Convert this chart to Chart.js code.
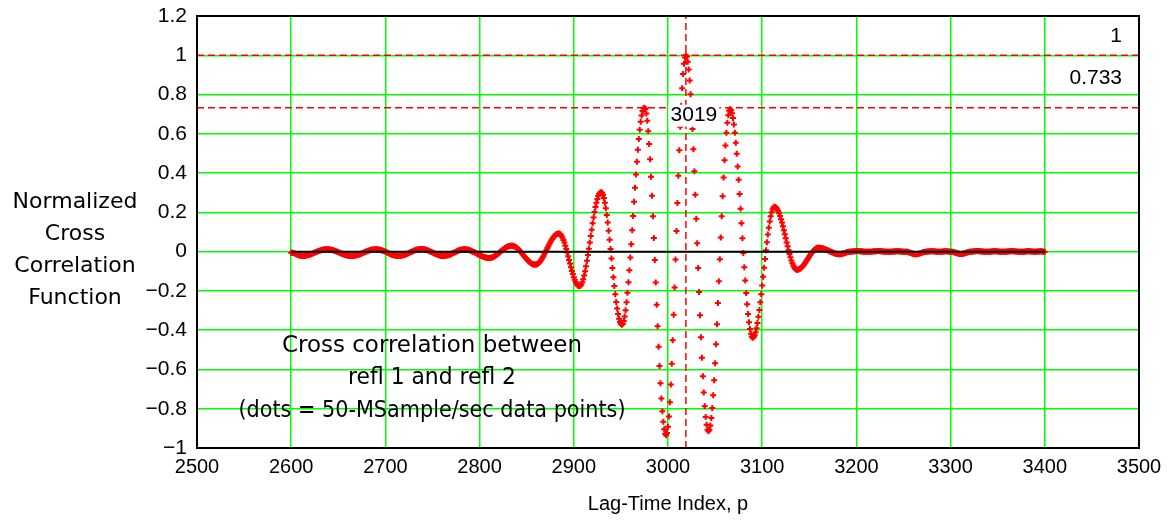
<!DOCTYPE html>
<html>
<head>
<meta charset="utf-8">
<title>Normalized Cross Correlation Function</title>
<script src="https://cdn.jsdelivr.net/npm/chart.js@4/dist/chart.umd.min.js"></script>
<style>
  html, body { margin: 0; padding: 0; background: #fff; }
  #wrap { position: relative; width: 1167px; height: 521px; }
</style>
</head>
<body>
<div id="wrap"><canvas id="chart" width="1167" height="521"></canvas></div>
<script>
// Axis ticks
const xTicks = [2500, 2600, 2700, 2800, 2900, 3000, 3100, 3200, 3300, 3400, 3500];
const yTicks = [-1, -0.8, -0.6, -0.4, -0.2, 0, 0.2, 0.4, 0.6, 0.8, 1, 1.2];

// Marker lines: main peak lag, its value, and the largest side lobe
const peakLag = 3019;
const peakValue = 1;
const sidelobeValue = 0.733;
const lagRange = [2600, 3400];

const yTitleLines = ['Normalized', 'Cross', 'Correlation', 'Function'];
const xTitle = 'Lag-Time Index, p';
const noteLines = ['Cross correlation between', 'refl 1 and refl 2', '(dots = 50-MSample/sec data points)'];

// Normalized cross correlation, one value per lag index, in blocks of 100 lags
const ccf2600 = [
  -0.006,-0.006,-0.007,-0.008,-0.010,-0.012,-0.014,-0.016,-0.018,-0.020,
  -0.021,-0.022,-0.022,-0.022,-0.022,-0.021,-0.020,-0.019,-0.018,-0.016,
  -0.015,-0.013,-0.011,-0.009,-0.007,-0.005,-0.003,-0.001,0.001,0.003,
  0.005,0.006,0.008,0.009,0.010,0.011,0.012,0.012,0.012,0.012,
  0.012,0.011,0.010,0.009,0.008,0.006,0.005,0.003,0.001,-0.001,
  -0.003,-0.005,-0.007,-0.009,-0.011,-0.013,-0.015,-0.016,-0.018,-0.019,
  -0.020,-0.021,-0.022,-0.022,-0.022,-0.022,-0.022,-0.021,-0.020,-0.019,
  -0.018,-0.016,-0.015,-0.013,-0.011,-0.009,-0.007,-0.005,-0.003,-0.001,
  0.001,0.003,0.005,0.006,0.008,0.009,0.010,0.011,0.012,0.012,
  0.012,0.012,0.011,0.011,0.010,0.008,0.007,0.005,0.004,0.002
];
const ccf2700 = [
  -0.001,-0.003,-0.005,-0.007,-0.009,-0.012,-0.014,-0.015,-0.017,-0.018,
  -0.020,-0.021,-0.021,-0.022,-0.022,-0.022,-0.021,-0.021,-0.020,-0.018,
  -0.017,-0.015,-0.013,-0.011,-0.009,-0.007,-0.004,-0.002,0.000,0.002,
  0.004,0.006,0.008,0.009,0.011,0.012,0.012,0.013,0.013,0.013,
  0.012,0.012,0.011,0.009,0.008,0.006,0.004,0.002,0.000,-0.002,
  -0.004,-0.007,-0.009,-0.011,-0.013,-0.015,-0.017,-0.018,-0.020,-0.021,
  -0.021,-0.022,-0.022,-0.022,-0.021,-0.020,-0.019,-0.018,-0.016,-0.014,
  -0.012,-0.010,-0.007,-0.005,-0.003,0.000,0.002,0.004,0.006,0.008,
  0.009,0.010,0.011,0.012,0.012,0.012,0.011,0.011,0.009,0.008,
  0.006,0.005,0.002,0.000,-0.002,-0.005,-0.007,-0.010,-0.013,-0.015
];
const ccf2800 = [
  -0.018,-0.020,-0.022,-0.025,-0.026,-0.028,-0.029,-0.031,-0.031,-0.032,
  -0.032,-0.032,-0.031,-0.030,-0.028,-0.026,-0.023,-0.020,-0.017,-0.013,
  -0.009,-0.005,-0.001,0.003,0.007,0.011,0.015,0.018,0.021,0.024,
  0.026,0.028,0.029,0.030,0.030,0.030,0.028,0.027,0.024,0.021,
  0.017,0.013,0.008,0.002,-0.003,-0.009,-0.015,-0.021,-0.027,-0.033,
  -0.038,-0.044,-0.049,-0.053,-0.057,-0.060,-0.063,-0.065,-0.066,-0.066,
  -0.065,-0.064,-0.060,-0.056,-0.051,-0.045,-0.037,-0.029,-0.021,-0.011,
  -0.002,0.008,0.018,0.028,0.037,0.047,0.055,0.063,0.071,0.077,
  0.082,0.087,0.090,0.091,0.092,0.091,0.087,0.080,0.071,0.059,
  0.046,0.030,0.014,-0.004,-0.023,-0.042,-0.061,-0.080,-0.098,-0.114
];
const ccf2900 = [
  -0.130,-0.143,-0.155,-0.164,-0.171,-0.175,-0.176,-0.174,-0.167,-0.156,
  -0.141,-0.122,-0.100,-0.075,-0.047,-0.017,0.015,0.047,0.080,0.112,
  0.144,0.174,0.202,0.227,0.249,0.268,0.283,0.294,0.301,0.303,
  0.300,0.289,0.273,0.249,0.221,0.187,0.148,0.106,0.061,0.014,
  -0.035,-0.083,-0.130,-0.175,-0.217,-0.256,-0.290,-0.318,-0.342,-0.358,
  -0.369,-0.372,-0.367,-0.353,-0.330,-0.298,-0.258,-0.210,-0.156,-0.095,
  -0.030,0.038,0.109,0.182,0.254,0.325,0.393,0.458,0.519,0.573,
  0.621,0.661,0.693,0.716,0.730,0.733,0.727,0.704,0.666,0.613,
  0.548,0.470,0.382,0.284,0.180,0.070,-0.043,-0.157,-0.270,-0.380,
  -0.484,-0.582,-0.670,-0.748,-0.813,-0.866,-0.904,-0.927,-0.935,-0.924
];
const ccf3000 = [
  -0.892,-0.839,-0.767,-0.677,-0.571,-0.451,-0.321,-0.183,-0.040,0.105,
  0.248,0.386,0.516,0.636,0.742,0.832,0.904,0.957,0.989,1.000,
  0.992,0.967,0.927,0.872,0.802,0.720,0.625,0.521,0.409,0.290,
  0.168,0.043,-0.083,-0.205,-0.324,-0.436,-0.540,-0.635,-0.717,-0.787,
  -0.842,-0.882,-0.907,-0.915,-0.907,-0.885,-0.847,-0.796,-0.731,-0.655,
  -0.568,-0.472,-0.370,-0.262,-0.151,-0.039,0.072,0.180,0.282,0.378,
  0.465,0.541,0.606,0.657,0.695,0.717,0.725,0.720,0.705,0.681,
  0.647,0.605,0.555,0.498,0.434,0.366,0.294,0.219,0.144,0.068,
  -0.007,-0.079,-0.147,-0.211,-0.268,-0.318,-0.360,-0.394,-0.418,-0.433,
  -0.438,-0.435,-0.426,-0.410,-0.390,-0.363,-0.332,-0.297,-0.258,-0.217
];
const ccf3100 = [
  -0.173,-0.128,-0.082,-0.037,0.007,0.048,0.087,0.122,0.153,0.180,
  0.200,0.216,0.225,0.228,0.227,0.223,0.216,0.207,0.195,0.181,
  0.165,0.148,0.129,0.109,0.089,0.068,0.047,0.027,0.007,-0.012,
  -0.029,-0.045,-0.059,-0.071,-0.080,-0.087,-0.091,-0.092,-0.092,-0.090,
  -0.087,-0.084,-0.079,-0.074,-0.068,-0.062,-0.055,-0.047,-0.040,-0.032,
  -0.025,-0.017,-0.010,-0.004,0.002,0.007,0.012,0.015,0.018,0.020,
  0.020,0.020,0.019,0.019,0.017,0.016,0.014,0.012,0.010,0.008,
  0.006,0.004,0.001,-0.001,-0.003,-0.005,-0.007,-0.009,-0.010,-0.012,
  -0.012,-0.013,-0.013,-0.013,-0.012,-0.011,-0.010,-0.008,-0.007,-0.005,
  -0.003,-0.002,-0.001,0.000,0.000,0.001,0.001,0.002,0.002,0.002
];
const ccf3200 = [
  0.003,0.003,0.003,0.002,0.002,0.002,0.001,0.001,0.000,0.000,
  -0.001,-0.001,-0.001,-0.001,-0.001,0.000,0.000,0.001,0.001,0.002,
  0.002,0.002,0.003,0.003,0.003,0.002,0.002,0.002,0.001,0.001,
  0.000,0.000,0.000,-0.001,-0.001,-0.001,-0.001,0.000,0.000,0.001,
  0.001,0.001,0.002,0.002,0.002,0.002,0.001,0.001,0.001,0.000,
  0.000,0.000,0.000,0.000,-0.001,-0.002,-0.004,-0.006,-0.007,-0.009,
  -0.011,-0.012,-0.013,-0.013,-0.013,-0.012,-0.011,-0.010,-0.008,-0.007,
  -0.005,-0.003,-0.002,-0.001,0.000,0.000,0.001,0.001,0.002,0.002,
  0.002,0.002,0.002,0.001,0.001,0.000,0.000,-0.001,-0.001,-0.001,
  0.000,0.000,0.001,0.001,0.002,0.002,0.002,0.001,0.001,0.000
];
const ccf3300 = [
  0.000,0.000,-0.001,-0.002,-0.004,-0.005,-0.007,-0.008,-0.010,-0.011,
  -0.012,-0.012,-0.012,-0.011,-0.010,-0.008,-0.007,-0.005,-0.004,-0.002,
  -0.001,0.000,0.000,0.001,0.001,0.002,0.002,0.002,0.003,0.003,
  0.002,0.002,0.002,0.001,0.001,0.000,0.000,-0.001,-0.001,-0.001,
  -0.001,0.000,0.000,0.001,0.001,0.002,0.002,0.002,0.002,0.002,
  0.001,0.001,0.000,0.000,0.000,-0.001,-0.001,-0.001,0.000,0.000,
  0.001,0.001,0.002,0.002,0.002,0.003,0.002,0.002,0.002,0.001,
  0.001,0.000,0.000,-0.001,-0.001,-0.001,-0.001,0.000,0.000,0.001,
  0.001,0.002,0.002,0.002,0.002,0.001,0.001,0.001,0.000,0.000,
  0.000,0.000,0.001,0.001,0.001,0.002,0.002,0.001,0.001,0.000,
  0.000
];

const blocks = [
  [2600, ccf2600], [2700, ccf2700], [2800, ccf2800], [2900, ccf2900],
  [3000, ccf3000], [3100, ccf3100], [3200, ccf3200], [3300, ccf3300]
];
const ccfPoints = [];
blocks.forEach(([start, vals]) => vals.forEach((v, i) => ccfPoints.push({ x: start + i, y: v })));

const labelFamily = "'Liberation Sans', 'Arial', sans-serif";
const wideFamily = "'DejaVu Sans', 'Verdana', sans-serif";
const GRID = '#00ff00';
const RED = '#ff0000';

const fmt = v => (v < 0 ? '\u2212' : '') + String(Math.abs(Math.round(v * 1000) / 1000));

// widest extent allowed for each line of the note
const noteWidths = [300, 168, 387];

const overlay = {
  id: 'overlay',
  afterDatasetsDraw(chart) {
    const { ctx, chartArea: a, scales: { x, y } } = chart;
    ctx.save();
    ctx.fillStyle = '#000';
    ctx.textBaseline = 'middle';

    // values of the horizontal marker lines
    ctx.font = '21px ' + labelFamily;
    ctx.textAlign = 'right';
    ctx.fillText(String(peakValue), a.right - 17, y.getPixelForValue(peakValue) - 19);
    ctx.fillText(String(sidelobeValue), a.right - 17, y.getPixelForValue(sidelobeValue) - 29);

    // lag of the main peak, on a white tag
    const tag = String(peakLag);
    const tx = x.getPixelForValue(peakLag) + 8;
    const ty = y.getPixelForValue(sidelobeValue) + 8;
    const tw = ctx.measureText(tag).width;
    ctx.fillStyle = '#fff';
    ctx.fillRect(tx - tw / 2 - 2, ty - 11, tw + 4, 22);
    ctx.fillStyle = '#000';
    ctx.textAlign = 'center';
    ctx.fillText(tag, tx, ty);

    // plot frame
    ctx.strokeStyle = '#000';
    ctx.lineWidth = 2;
    ctx.strokeRect(a.left, a.top, a.right - a.left, a.bottom - a.top);

    // horizontal y-axis title
    ctx.font = '22px ' + wideFamily;
    ctx.textAlign = 'center';
    yTitleLines.forEach((t, i) => ctx.fillText(t, 75, 202 + i * 32));

    // note inside the plot
    ctx.font = '23px ' + wideFamily;
    noteLines.forEach((t, i) => ctx.fillText(t, a.left + 235, 346 + i * 32.5, noteWidths[i]));
    ctx.restore();
  }
};

new Chart(document.getElementById('chart'), {
  type: 'scatter',
  data: {
    datasets: [
      {
        data: [{ x: lagRange[0], y: 0 }, { x: lagRange[1], y: 0 }],
        showLine: true, borderColor: '#000', borderWidth: 2, pointRadius: 0, order: 0
      },
      {
        data: [{ x: xTicks[0], y: peakValue }, { x: xTicks[xTicks.length - 1], y: peakValue }],
        showLine: true, borderColor: RED, borderWidth: 1.5, borderDash: [7, 4], pointRadius: 0, order: 0
      },
      {
        data: [{ x: xTicks[0], y: sidelobeValue }, { x: xTicks[xTicks.length - 1], y: sidelobeValue }],
        showLine: true, borderColor: RED, borderWidth: 1.5, borderDash: [7, 4], pointRadius: 0, order: 0
      },
      {
        data: [{ x: peakLag, y: yTicks[0] }, { x: peakLag, y: yTicks[yTicks.length - 1] }],
        showLine: true, borderColor: RED, borderWidth: 1.5, borderDash: [7, 4], pointRadius: 0, order: 0
      },
      {
        data: ccfPoints,
        showLine: false, pointStyle: 'cross', pointRadius: 3, borderWidth: 2,
        borderColor: RED, backgroundColor: RED, order: 2
      }
    ]
  },
  options: {
    responsive: false,
    animation: false,
    devicePixelRatio: 1,
    layout: { padding: { top: 16, right: 28, bottom: 0, left: 0 } },
    plugins: { legend: { display: false }, tooltip: { enabled: false } },
    scales: {
      x: {
        type: 'linear', min: xTicks[0], max: xTicks[xTicks.length - 1],
        afterBuildTicks: s => { s.ticks = xTicks.map(v => ({ value: v })); },
        afterFit: s => { s.height = 73; s.paddingLeft = 0; s.paddingRight = 0; },
        grid: { color: GRID, lineWidth: 1.5, drawTicks: false },
        border: { display: true, color: '#000', width: 2 },
        ticks: { color: '#000', padding: 7, maxRotation: 0, autoSkip: false,
                 font: { family: labelFamily, size: 20 }, callback: v => String(v) },
        title: { display: true, text: xTitle, color: '#000',
                 font: { family: labelFamily, size: 20 }, padding: { top: 0, bottom: 5 } }
      },
      y: {
        type: 'linear', min: yTicks[0], max: yTicks[yTicks.length - 1],
        afterBuildTicks: s => { s.ticks = yTicks.map(v => ({ value: v })); },
        afterFit: s => { s.width = 197; s.paddingTop = 0; s.paddingBottom = 0; },
        grid: { color: GRID, lineWidth: 1.5, drawTicks: false },
        border: { display: true, color: '#000', width: 2 },
        ticks: { color: '#000', padding: 10, autoSkip: false,
                 font: { family: labelFamily, size: 21 }, callback: v => fmt(v) }
      }
    }
  },
  plugins: [overlay]
});
</script>
</body>
</html>
